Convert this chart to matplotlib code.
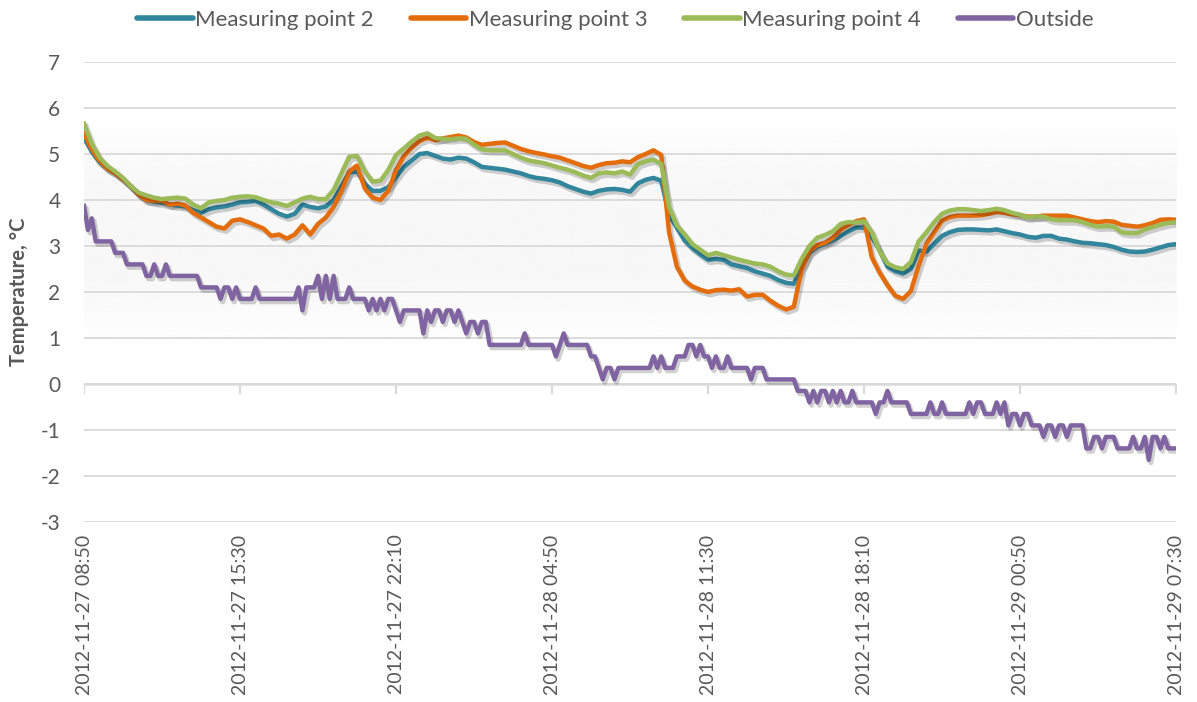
import numpy as np
import pandas as pd
import matplotlib
matplotlib.use('Agg')
import matplotlib.pyplot as plt
import matplotlib.patheffects as pe

# indoor readings every 20 minutes, outside every 10 minutes
times = pd.date_range('2012-11-27 08:50', periods=141, freq='20min')
times_out = pd.date_range('2012-11-27 08:50', periods=281, freq='10min')
tick_times = pd.date_range('2012-11-27 08:50', '2012-11-29 07:30', freq='400min')

mp2 = [5.35, 5.05, 4.82, 4.68, 4.58, 4.45, 4.3, 4.12, 4.0, 3.96,
       3.94, 3.9, 3.88, 3.86, 3.78, 3.72, 3.8, 3.84, 3.86, 3.9,
       3.95, 3.96, 3.98, 3.9, 3.8, 3.7, 3.64, 3.7, 3.9, 3.85,
       3.82, 3.86, 4.0, 4.3, 4.6, 4.62, 4.35, 4.2, 4.2, 4.28,
       4.5, 4.72, 4.86, 5.0, 5.02, 4.96, 4.9, 4.88, 4.92, 4.9,
       4.82, 4.72, 4.7, 4.68, 4.66, 4.62, 4.58, 4.52, 4.48, 4.46,
       4.43, 4.38, 4.3, 4.24, 4.18, 4.14, 4.2, 4.23, 4.24, 4.22,
       4.18, 4.36, 4.44, 4.48, 4.42, 3.68, 3.4, 3.12, 2.95, 2.82,
       2.7, 2.72, 2.7, 2.6, 2.56, 2.52, 2.45, 2.4, 2.35, 2.26,
       2.2, 2.18, 2.55, 2.85, 2.98, 3.05, 3.12, 3.22, 3.32, 3.4,
       3.4, 3.2, 2.9, 2.55, 2.45, 2.4, 2.5, 2.9, 2.88, 3.05,
       3.22, 3.3, 3.35, 3.36, 3.36, 3.35, 3.34, 3.36, 3.32, 3.28,
       3.25, 3.2, 3.18, 3.22, 3.22, 3.16, 3.14, 3.1, 3.07, 3.06,
       3.04, 3.02, 2.98, 2.92, 2.88, 2.87, 2.88, 2.92, 2.97, 3.02,
       3.04]

mp3 = [5.44, 5.1, 4.85, 4.68, 4.58, 4.45, 4.3, 4.12, 4.0, 3.98,
       3.98, 3.9, 3.92, 3.88, 3.72, 3.62, 3.52, 3.42, 3.38, 3.55,
       3.58, 3.52, 3.45, 3.38, 3.22, 3.25, 3.16, 3.25, 3.45, 3.25,
       3.48, 3.62, 3.85, 4.2, 4.62, 4.75, 4.25, 4.05, 4.0, 4.2,
       4.65, 4.95, 5.14, 5.28, 5.35, 5.3, 5.34, 5.37, 5.4, 5.36,
       5.26, 5.2, 5.22, 5.24, 5.25, 5.18, 5.11, 5.06, 5.02, 4.99,
       4.95, 4.92, 4.86, 4.8, 4.74, 4.7, 4.76, 4.8, 4.81, 4.84,
       4.82, 4.93, 5.0, 5.08, 4.98, 3.3, 2.55, 2.25, 2.12, 2.05,
       2.0, 2.04, 2.05, 2.03, 2.06, 1.9, 1.94, 1.94, 1.81, 1.7,
       1.62, 1.68, 2.5, 2.88, 3.02, 3.07, 3.18, 3.35, 3.46, 3.54,
       3.58, 2.75, 2.42, 2.15, 1.92, 1.85, 2.02, 2.57, 3.05, 3.3,
       3.55, 3.63, 3.66, 3.66, 3.66, 3.67, 3.7, 3.74, 3.72, 3.69,
       3.67, 3.64, 3.64, 3.66, 3.66, 3.66, 3.66, 3.62, 3.58, 3.54,
       3.52, 3.54, 3.53, 3.46, 3.44, 3.42, 3.45, 3.5, 3.57, 3.58,
       3.57]

mp4 = [5.66, 5.22, 4.92, 4.74, 4.62, 4.48, 4.3, 4.16, 4.1, 4.05,
       4.02, 4.04, 4.05, 4.03, 3.9, 3.82, 3.95, 3.98, 4.0, 4.05,
       4.07, 4.08, 4.06, 4.0, 3.95, 3.92, 3.87, 3.95, 4.03, 4.07,
       4.02, 4.02, 4.22, 4.58, 4.94, 4.96, 4.62, 4.4, 4.42, 4.65,
       4.98, 5.12, 5.27, 5.4, 5.45, 5.35, 5.33, 5.32, 5.34, 5.33,
       5.2, 5.1, 5.08, 5.08, 5.08, 5.0, 4.92, 4.86, 4.83, 4.8,
       4.75, 4.7, 4.66, 4.6, 4.53, 4.48, 4.58, 4.6, 4.58, 4.62,
       4.55, 4.78, 4.84, 4.88, 4.78, 3.85, 3.45, 3.25, 3.04, 2.92,
       2.8, 2.85, 2.8, 2.75, 2.7, 2.66, 2.62, 2.6, 2.55, 2.45,
       2.38, 2.36, 2.72, 3.0, 3.18, 3.24, 3.32, 3.48, 3.52, 3.51,
       3.54, 3.3, 2.88, 2.62, 2.54, 2.5, 2.65, 3.1, 3.3, 3.52,
       3.7, 3.77, 3.8, 3.8, 3.78, 3.76, 3.78, 3.81, 3.78, 3.72,
       3.68, 3.62, 3.64, 3.64, 3.58, 3.56, 3.56, 3.56, 3.52, 3.46,
       3.42, 3.43, 3.42, 3.3, 3.28, 3.28, 3.36, 3.41, 3.46, 3.5,
       3.52]

outside = [3.87, 3.35, 3.6, 3.1, 3.1, 3.1, 3.1, 3.1, 2.85, 2.85,
           2.85, 2.6, 2.6, 2.6, 2.6, 2.6, 2.35, 2.35, 2.6, 2.35,
           2.35, 2.6, 2.35, 2.35, 2.35, 2.35, 2.35, 2.35, 2.35, 2.35,
           2.1, 2.1, 2.1, 2.1, 2.1, 1.85, 2.1, 2.1, 1.85, 2.1,
           1.85, 1.85, 1.85, 1.85, 2.1, 1.85, 1.85, 1.85, 1.85, 1.85,
           1.85, 1.85, 1.85, 1.85, 1.85, 2.1, 1.6, 2.1, 2.1, 2.1,
           2.35, 1.85, 2.35, 1.85, 2.35, 1.85, 1.85, 1.85, 2.1, 1.85,
           1.85, 1.85, 1.85, 1.6, 1.85, 1.6, 1.85, 1.6, 1.85, 1.85,
           1.6, 1.35, 1.6, 1.6, 1.6, 1.6, 1.6, 1.1, 1.6, 1.35,
           1.6, 1.6, 1.35, 1.6, 1.6, 1.35, 1.6, 1.35, 1.1, 1.35,
           1.35, 1.1, 1.35, 1.35, 0.85, 0.85, 0.85, 0.85, 0.85, 0.85,
           0.85, 0.85, 0.85, 1.1, 0.85, 0.85, 0.85, 0.85, 0.85, 0.85,
           0.85, 0.6, 0.85, 1.1, 0.85, 0.85, 0.85, 0.85, 0.85, 0.85,
           0.6, 0.6, 0.35, 0.1, 0.35, 0.35, 0.1, 0.35, 0.35, 0.35,
           0.35, 0.35, 0.35, 0.35, 0.35, 0.35, 0.6, 0.35, 0.6, 0.35,
           0.35, 0.35, 0.6, 0.6, 0.6, 0.85, 0.85, 0.6, 0.85, 0.6,
           0.6, 0.35, 0.6, 0.35, 0.35, 0.6, 0.35, 0.35, 0.35, 0.35,
           0.35, 0.1, 0.35, 0.35, 0.35, 0.1, 0.1, 0.1, 0.1, 0.1,
           0.1, 0.1, 0.1, -0.15, -0.15, -0.15, -0.4, -0.15, -0.4, -0.15,
           -0.15, -0.4, -0.15, -0.4, -0.15, -0.4, -0.4, -0.15, -0.4, -0.4,
           -0.4, -0.4, -0.4, -0.65, -0.4, -0.4, -0.15, -0.4, -0.4, -0.4,
           -0.4, -0.4, -0.65, -0.65, -0.65, -0.65, -0.65, -0.4, -0.65, -0.65,
           -0.4, -0.65, -0.65, -0.65, -0.65, -0.65, -0.65, -0.4, -0.65, -0.4,
           -0.4, -0.65, -0.65, -0.65, -0.4, -0.65, -0.4, -0.9, -0.65, -0.65,
           -0.9, -0.65, -0.65, -0.9, -0.9, -0.9, -1.15, -0.9, -0.9, -1.15,
           -0.9, -0.9, -1.15, -0.9, -0.9, -0.9, -0.9, -1.4, -1.4, -1.15,
           -1.15, -1.4, -1.15, -1.15, -1.15, -1.4, -1.4, -1.4, -1.4, -1.15,
           -1.4, -1.4, -1.15, -1.65, -1.15, -1.15, -1.4, -1.15, -1.4, -1.4,
           -1.4]

labels = ['Measuring point 2', 'Measuring point 3', 'Measuring point 4', 'Outside']
colors = ['#31859c', '#e46c0a', '#9bbb59', '#8064a2']

plt.rcParams['font.family'] = ['Lato', 'DejaVu Sans']
plt.rcParams['axes.unicode_minus'] = False
text_color = '#595959'

fig = plt.figure(figsize=(11.97, 7.02), dpi=100)
ax = fig.add_axes([0.0702, 0.2564, 0.9123, 0.6553])

# faint grey band in the plot area
f = np.linspace(0, 1, 300)
band = 1 - 0.03 * np.exp(-((f - 0.63) / 0.2) ** 4)
ax.imshow(band[:, None], extent=[0, 1, 0, 1], transform=ax.transAxes,
          cmap='gray', vmin=0, vmax=1, aspect='auto', origin='lower', zorder=0)

shadow = [pe.SimpleLineShadow(offset=(1.5, -2), shadow_color='#000000', alpha=0.18, linewidth=3.8),
          pe.Normal()]
all_x = [times, times, times, times_out]
for x, series, lab, col in zip(all_x, [mp2, mp3, mp4, outside], labels, colors):
    ax.plot(x, series, color=col, lw=3.2, label=lab, zorder=3,
            solid_joinstyle='round', path_effects=shadow)

ax.set_xlim(times[0], times[-1])
ax.set_ylim(-3, 7)
ax.set_yticks(range(-3, 8))
ax.yaxis.grid(True, color='#d9d9d9', lw=1.3, zorder=1)
ax.set_axisbelow(True)
for s in ax.spines.values():
    s.set_visible(False)

# horizontal axis line at zero with its tick marks
ax.axhline(0, color='#d9d9d9', lw=1.8, zorder=2)
ax.plot(tick_times, np.zeros(len(tick_times)), ls='none', marker=3,
        markersize=7, markeredgewidth=1.6, color='#d9d9d9', zorder=2)

ax.set_xticks(tick_times)
ax.set_xticklabels([t.strftime('%Y-%m-%d %H:%M') for t in tick_times],
                   rotation=90, ha='center', va='top')
ax.tick_params(axis='x', length=0, pad=9, labelsize=14, labelcolor=text_color)
ax.tick_params(axis='y', length=0, pad=17, labelsize=15, labelcolor=text_color)

ax.set_ylabel('Temperature, °C', fontsize=14.5, fontweight='bold', color=text_color)
ax.yaxis.set_label_coords(-0.05, 0.5)

leg = fig.legend(loc='center', bbox_to_anchor=(0.514, 0.972), ncol=4, frameon=False,
                 fontsize=16, handlelength=2.5, handletextpad=0.12, columnspacing=1.65)
for t in leg.get_texts():
    t.set_color(text_color)
for h in leg.get_lines():
    h.set_linewidth(4)
    h.set_solid_capstyle('round')
    h.set_path_effects([])

fig.savefig('out.png', dpi=100)
